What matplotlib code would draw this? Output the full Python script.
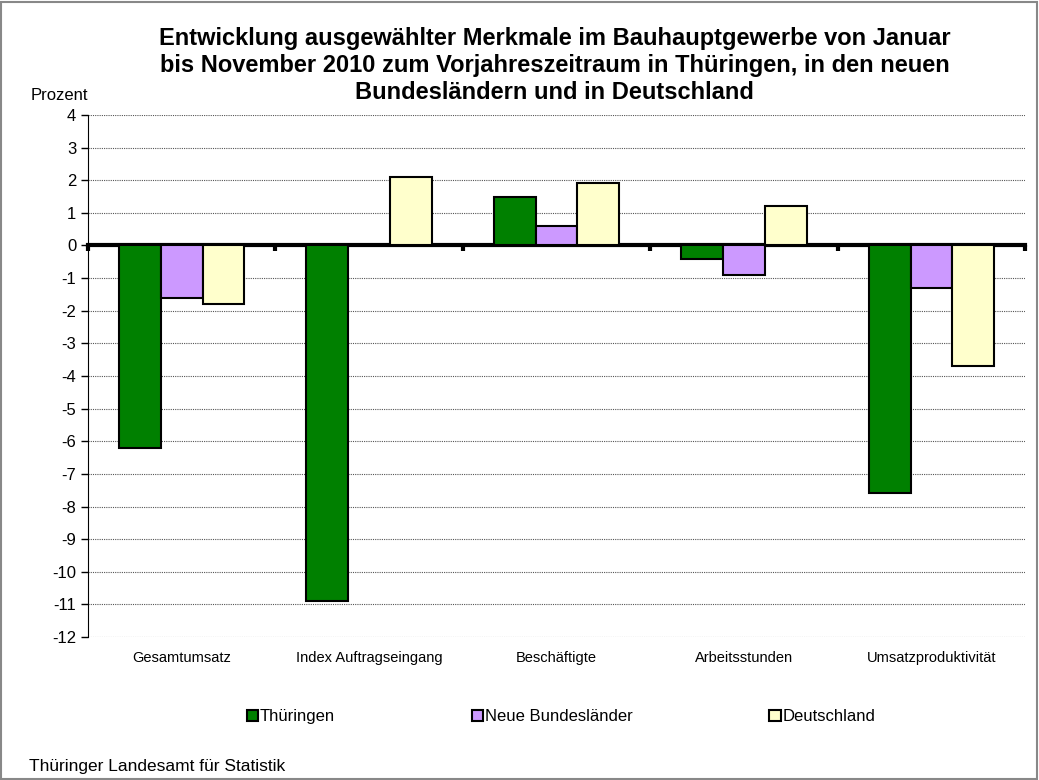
import numpy as np
import matplotlib.pyplot as plt
from matplotlib.patches import Rectangle

plt.rcParams['font.family'] = ['Liberation Sans', 'DejaVu Sans']
plt.rcParams['axes.unicode_minus'] = False

categories = ['Gesamtumsatz', 'Index Auftragseingang', 'Beschäftigte',
              'Arbeitsstunden', 'Umsatzproduktivität']
thueringen = [-6.2, -10.9, 1.5, -0.4, -7.6]
neue_laender = [-1.6, np.nan, 0.6, -0.9, -1.3]
deutschland = [-1.8, 2.1, 1.9, 1.2, -3.7]

series = [('Thüringen', thueringen, '#008000'),
          ('Neue Bundesländer', neue_laender, '#CC99FF'),
          ('Deutschland', deutschland, '#FFFFCC')]

fig = plt.figure(figsize=(10.39, 7.8), dpi=100)
ax = fig.add_axes([0.0847, 0.1833, 0.902, 0.6693])

x = np.arange(len(categories))
w = 0.223
for i, (name, vals, col) in enumerate(series):
    ax.bar(x + (i - 1) * w, vals, w, color=col, edgecolor='black',
           linewidth=1.5, label=name, zorder=3)

ax.set_xlim(-0.5, len(categories) - 0.5)
ax.set_ylim(-12, 4)
ax.set_yticks(range(-12, 5))
ax.tick_params(axis='y', labelsize=12, length=5, width=1)
ax.yaxis.grid(True, linestyle=(0, (1, 1)), color='#555555', linewidth=0.8)
ax.set_axisbelow(True)

# zero line as x axis, ticks at category borders
ax.spines['bottom'].set_position(('data', 0))
ax.spines['bottom'].set_linewidth(3)
ax.spines['top'].set_visible(False)
ax.spines['right'].set_visible(False)
ax.set_xticks(np.arange(len(categories) + 1) - 0.5)
ax.set_xticklabels([])
ax.tick_params(axis='x', length=4, width=3, direction='out')

for xi, lab in zip(x, categories):
    ax.annotate(lab, (xi, -12), xytext=(0, -10), textcoords='offset points',
                ha='center', va='top', fontsize=10.5)

fig.text(0.534, 0.965,
         'Entwicklung ausgewählter Merkmale im Bauhauptgewerbe von Januar\n'
         'bis November 2010 zum Vorjahreszeitraum in Thüringen, in den neuen\n'
         'Bundesländern und in Deutschland',
         ha='center', va='top', fontsize=17, fontweight='bold', linespacing=1.22)
fig.text(0.029, 0.878, 'Prozent', fontsize=12, va='center')
fig.text(0.028, 0.027, 'Thüringer Landesamt für Statistik', fontsize=12.5, va='top')

fig.legend(loc='center', bbox_to_anchor=(0.54, 0.081), ncol=3, frameon=False,
           fontsize=12, handlelength=0.7, handleheight=0.7, handletextpad=0.1,
           columnspacing=8.2)

fig.add_artist(Rectangle((0.001, 0.001), 0.997, 0.997, transform=fig.transFigure,
                         fill=False, edgecolor='#888888', linewidth=1.5))

fig.savefig('out.png', dpi=100)
